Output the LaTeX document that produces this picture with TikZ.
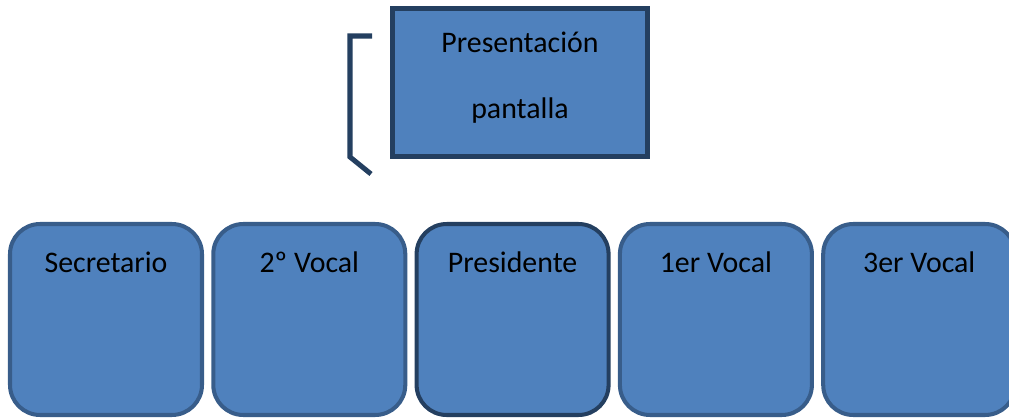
\documentclass[tikz,border=0pt]{standalone}
\usepackage{fontspec}
\setmainfont{Carlito}
\definecolor{boxblue}{RGB}{79,129,189}
\definecolor{boxline}{RGB}{56,93,138}
\definecolor{boxdark}{RGB}{36,63,96}

\begin{document}
\begin{tikzpicture}[x=0.02cm,y=-0.02cm,
  member/.style={draw=boxline,fill=boxblue,line width=2.3pt,rounded corners=0.6cm,
    minimum width=3.84cm,minimum height=3.82cm,inner sep=0pt},
  memberlabel/.style={anchor=base,yshift=-1.02cm,font=\fontsize{17}{20}\selectfont}]
\clip (0,0) rectangle (1009,419);

% Screen box
\node[draw=boxdark,fill=boxblue,line width=2.85pt,minimum width=5.1cm,minimum height=2.96cm,
  inner sep=0pt,align=center,text height=41.5pt,text depth=0pt,
  font=\fontsize{17}{38.1}\selectfont] (screen) at (520,82.5)
  {Presentación\\pantalla};

% Bracket
\draw[boxdark,line width=2.85pt] (372,36) -- (350,36) -- (350,157) -- (371,174);

% Table members
\node[member,label={[memberlabel]north:Secretario}] (secretario) at (106,319.5) {};
\node[member,label={[memberlabel]north:2º Vocal}] (vocal2) at (309.3,319.5) {};
\node[member,draw=boxdark,label={[memberlabel]north:Presidente}] (presidente) at (512.6,319.5) {};
\node[member,label={[memberlabel]north:1er Vocal}] (vocal1) at (715.9,319.5) {};
\node[member,label={[memberlabel]north:3er Vocal}] (vocal3) at (919.2,319.5) {};
\end{tikzpicture}
\end{document}
